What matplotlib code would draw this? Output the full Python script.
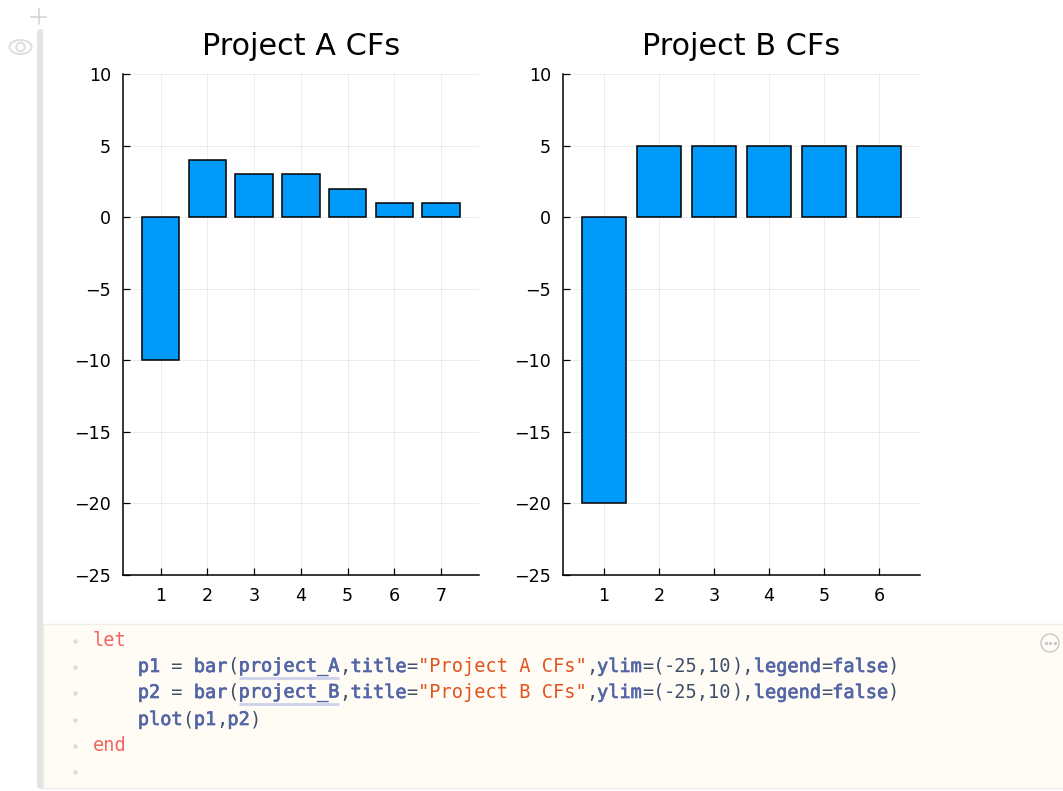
import matplotlib
matplotlib.use('Agg')
import matplotlib.pyplot as plt
import matplotlib.patheffects as pe
from matplotlib.patches import Circle, Ellipse, FancyBboxPatch, Rectangle

# Data
project_a = [-10, 4, 3, 3, 2, 1, 1]
project_b = [-20, 5, 5, 5, 5, 5]
titles = ['Project A CFs', 'Project B CFs']
y_ticks = [-25, -20, -15, -10, -5, 0, 5, 10]

W, H = 1063, 791
BLUE = '#5466a6'
RED = '#f4635f'
ORANGE = '#e2531d'
DARK = '#3f4f68'

# Notebook cell source, one list of (text, colour, bold) per line
code_lines = [
    [('let', RED, False)],
    [('    ', DARK, False), ('p1', BLUE, True), (' = ', DARK, False), ('bar', BLUE, True), ('(', DARK, False),
     ('project_A', BLUE, True), (',', DARK, False), ('title', BLUE, True), ('=', DARK, False),
     ('"Project A CFs"', ORANGE, False), (',', DARK, False), ('ylim', BLUE, True), ('=(', DARK, False),
     ('-25,10', DARK, False), ('),', DARK, False), ('legend', BLUE, True), ('=', DARK, False),
     ('false', BLUE, True), (')', DARK, False)],
    [('    ', DARK, False), ('p2', BLUE, True), (' = ', DARK, False), ('bar', BLUE, True), ('(', DARK, False),
     ('project_B', BLUE, True), (',', DARK, False), ('title', BLUE, True), ('=', DARK, False),
     ('"Project B CFs"', ORANGE, False), (',', DARK, False), ('ylim', BLUE, True), ('=(', DARK, False),
     ('-25,10', DARK, False), ('),', DARK, False), ('legend', BLUE, True), ('=', DARK, False),
     ('false', BLUE, True), (')', DARK, False)],
    [('    ', DARK, False), ('plot', BLUE, True), ('(', DARK, False), ('p1', BLUE, True), (',', DARK, False),
     ('p2', BLUE, True), (')', DARK, False)],
    [('end', RED, False)],
    [],
]
line_y = [640.5, 666.5, 692.5, 719.5, 745.5, 771]

fig = plt.figure(figsize=(W / 100, H / 100), dpi=100)

# Full figure overlay in pixel coordinates for the notebook chrome
bg = fig.add_axes([0, 0, 1, 1], zorder=0)
bg.set_xlim(0, W)
bg.set_ylim(H, 0)
bg.axis('off')

bg.add_patch(FancyBboxPatch((37, 29), 30, 760, boxstyle='round,pad=0,rounding_size=4',
                            fc='#e4e4e4', ec='none'))
bg.add_patch(Rectangle((43, 27), 1030, 598, fc='white', ec='none'))
bg.add_patch(Rectangle((43, 624), 1030, 164, fc='#fffcf5', ec='#eeeeea', lw=1))

# plus and eye icons
bg.plot([38.5, 38.5], [9, 24], color='#d4d4d4', lw=1.2)
bg.plot([31, 46], [16.5, 16.5], color='#d4d4d4', lw=1.2)
bg.add_patch(Ellipse((20.5, 47), 22, 14, fc='none', ec='#dedede', lw=1.4))
bg.add_patch(Circle((20.5, 47), 4.2, fc='none', ec='#dedede', lw=1.4))

# "more" button on the code cell
bg.add_patch(Circle((1050, 643), 9, fc='none', ec='#cccccc', lw=1.1))
bg.plot([1045.5, 1050, 1054.5], [643, 643, 643], ls='none', marker='o', ms=1.3, color='#c4c4c4')

# code text, placed one token at a time on the monospace grid
char_w = 11.2
for y, tokens in zip(line_y, code_lines):
    bg.plot([75], [y + 0.5], marker='o', ms=2.2, color='#dcdcdc', ls='none')
    col = 0
    for text, color, bold in tokens:
        x = 93 + col * char_w
        t = bg.text(x, y, text, family='DejaVu Sans Mono', fontsize=13.4, color=color,
                    va='center', ha='left')
        if bold:
            # medium weight: DejaVu only has regular and a much heavier bold
            t.set_path_effects([pe.withStroke(linewidth=0.5, foreground=color)])
        if text.startswith('project_'):
            bg.plot([x, x + len(text) * char_w], [y + 11, y + 11], color='#cdd1ec', lw=2.0,
                    solid_capstyle='butt', zorder=1)
        col += len(text)


def make_panel(box, values, title, xlim):
    left, right, top, bottom = box
    ax = fig.add_axes([left / W, 1 - bottom / H, (right - left) / W, (bottom - top) / H], zorder=2)
    xs = list(range(1, len(values) + 1))
    ax.bar(xs, values, width=0.8, color='#009afa', edgecolor='black', linewidth=1.1, zorder=3)
    ax.set_xlim(*xlim)
    ax.set_ylim(-25, 10)
    ax.set_xticks(xs)
    ax.set_yticks(y_ticks)
    ax.grid(True, color='#000000', alpha=0.07, linewidth=0.7)
    ax.set_axisbelow(True)
    ax.spines['top'].set_visible(False)
    ax.spines['right'].set_visible(False)
    ax.spines['left'].set_linewidth(1.1)
    ax.spines['bottom'].set_linewidth(1.1)
    ax.tick_params(direction='in', length=5, width=0.9, labelsize=12.6, pad=8.5)
    ax.set_title(title, fontsize=21.8, pad=14)
    ax.patch.set_alpha(0)
    return ax


make_panel((123, 479, 74, 575), project_a, titles[0], (0.198, 7.81))
make_panel((563, 920, 74, 575), project_b, titles[1], (0.255, 6.745))

fig.savefig('out.png', dpi=100)
